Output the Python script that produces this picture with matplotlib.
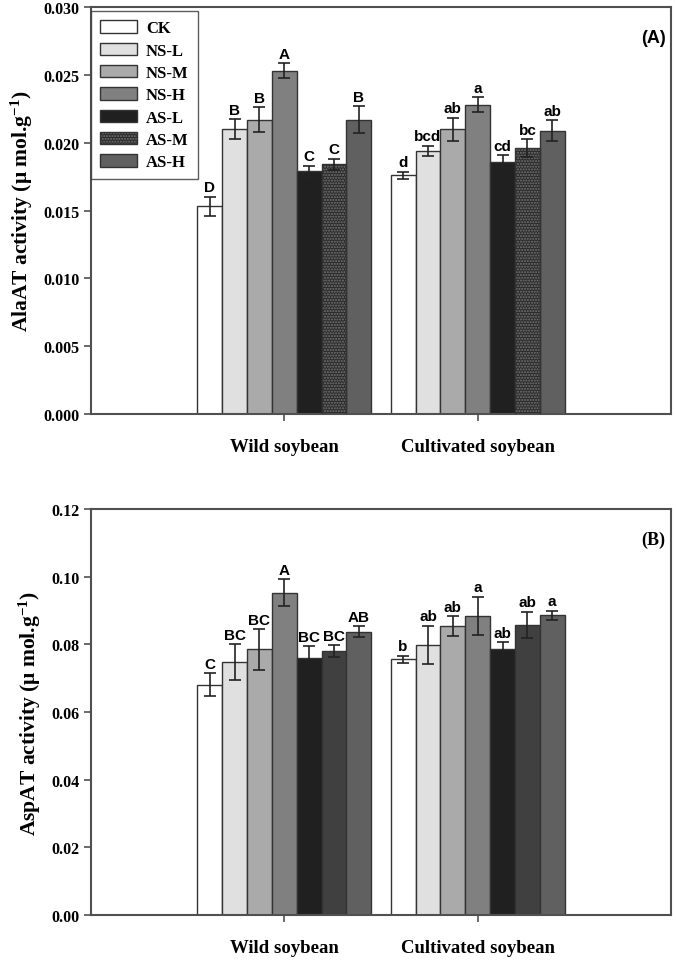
import matplotlib.pyplot as plt
import numpy as np
from matplotlib.patches import Patch
from matplotlib.legend_handler import HandlerTuple

# ---------------------------------------------------------------------------
# Data
# ---------------------------------------------------------------------------
groups = ["Wild soybean", "Cultivated soybean"]
treatments = ["CK", "NS-L", "NS-M", "NS-H", "AS-L", "AS-M", "AS-H"]

alaat_mean = [
    [0.0153, 0.0210, 0.0217, 0.0253, 0.0179, 0.0184, 0.0217],
    [0.0176, 0.0194, 0.0210, 0.0228, 0.0186, 0.0196, 0.0209],
]
alaat_err = [
    [0.00073, 0.00073, 0.00090, 0.00055, 0.00042, 0.00042, 0.00098],
    [0.00027, 0.00037, 0.00085, 0.00054, 0.00048, 0.00067, 0.00076],
]
alaat_letters = [
    ["D", "B", "B", "A", "C", "C", "B"],
    ["d", "bcd", "ab", "a", "cd", "bc", "ab"],
]

aspat_mean = [
    [0.0681, 0.0747, 0.0785, 0.0953, 0.0759, 0.0781, 0.0837],
    [0.0756, 0.0799, 0.0855, 0.0885, 0.0786, 0.0857, 0.0886],
]
aspat_err = [
    [0.0033, 0.0053, 0.0060, 0.0039, 0.0035, 0.0017, 0.0016],
    [0.0011, 0.0056, 0.0029, 0.0056, 0.0021, 0.0039, 0.0014],
]
aspat_letters = [
    ["C", "BC", "BC", "A", "BC", "BC", "AB"],
    ["b", "ab", "ab", "a", "ab", "ab", "a"],
]

colors_a = ["#ffffff", "#e0e0e0", "#aaaaaa", "#808080", "#202020", "#2a2a2a", "#606060"]
colors_b = ["#ffffff", "#e0e0e0", "#aaaaaa", "#808080", "#202020", "#404040", "#606060"]

SERIF = "Liberation Serif"
SANS = "Liberation Sans"
SPINE = "#505050"

plt.rcParams["mathtext.fontset"] = "custom"
plt.rcParams["mathtext.rm"] = "Liberation Serif:bold"
plt.rcParams["mathtext.it"] = "Liberation Serif:bold"
plt.rcParams["mathtext.bf"] = "Liberation Serif:bold"
plt.rcParams["mathtext.default"] = "rm"


def draw_panel(ax, means, errs, letters, colors, ymax, yticks, fmt, ylabel, tag,
               tag_font, hatch_asm):
    n = len(treatments)
    width = 0.9 / n
    centers = np.arange(1, len(groups) + 1)
    for gi, c in enumerate(centers):
        xs = c - 0.45 + width * (np.arange(n) + 0.5)
        for ti in range(n):
            m = means[gi][ti]
            e = errs[gi][ti]
            if hatch_asm and ti == 5:
                ax.bar(xs[ti], m, width, color=colors[ti], edgecolor="#777777",
                       hatch="......", linewidth=0, zorder=2)
                ax.bar(xs[ti], m, width, facecolor="none", edgecolor="#333333",
                       linewidth=1.0, zorder=3)
            else:
                ax.bar(xs[ti], m, width, color=colors[ti], edgecolor="#333333",
                       linewidth=1.0, zorder=2)
            ax.errorbar(xs[ti], m, yerr=e, fmt="none", ecolor="#222222",
                        elinewidth=1.2, capsize=4.5, capthick=1.2, zorder=4)
            ax.text(xs[ti], m + e + ymax * 0.006, letters[gi][ti],
                    ha="center", va="bottom", fontsize=11, fontweight="bold",
                    family=SANS, zorder=5)

    ax.set_xlim(0, len(groups) + 1)
    ax.set_ylim(0, ymax)
    ax.set_xticks(centers)
    ax.set_xticklabels(groups, fontsize=13.5, fontweight="bold", family=SERIF)
    ax.set_yticks(yticks)
    ax.set_yticklabels([fmt.format(v) for v in yticks], fontsize=11.5,
                       fontweight="bold", family=SERIF)
    ax.tick_params(axis="both", direction="out", length=5, width=1.2, color=SPINE)
    ax.tick_params(axis="x", pad=12)
    for s in ax.spines.values():
        s.set_color(SPINE)
        s.set_linewidth(1.5)
    ax.set_ylabel(ylabel, fontsize=15.5, fontweight="bold", family=SERIF, labelpad=6)
    ax.text(0.97, 0.925, tag, transform=ax.transAxes, ha="center", va="center",
            fontsize=13, fontweight="bold", family=tag_font)


fig = plt.figure(figsize=(6.76, 9.62), dpi=100)
ax_a = fig.add_axes([0.1346, 0.5686, 0.858, 0.423])
ax_b = fig.add_axes([0.1346, 0.0478, 0.858, 0.422])

draw_panel(ax_a, alaat_mean, alaat_err, alaat_letters, colors_a, 0.030,
           np.arange(0, 0.0301, 0.005), "{:.3f}",
           "AlaAT activity (\u03bc mol.g$^{-1}$)", "(A)", SANS, True)
draw_panel(ax_b, aspat_mean, aspat_err, aspat_letters, colors_b, 0.12,
           np.arange(0, 0.1201, 0.02), "{:.2f}",
           "AspAT activity (\u03bc mol.g$^{-1}$)", "(B)", SERIF, False)

# legend for panel A
handles = []
for i, t in enumerate(treatments):
    if i == 5:
        handles.append((Patch(facecolor=colors_a[i], edgecolor="#777777", hatch="......",
                              linewidth=0),
                        Patch(facecolor="none", edgecolor="#333333", linewidth=1.0)))
    else:
        handles.append(Patch(facecolor=colors_a[i], edgecolor="#333333", linewidth=1.0))
leg = ax_a.legend(handles, treatments, handler_map={tuple: HandlerTuple(ndivide=1, pad=0)},
                  loc="upper left", bbox_to_anchor=(0.0, 0.99), borderaxespad=0.0,
                  frameon=True, fancybox=False,
                  edgecolor="#333333", handlelength=2.2, handleheight=0.75,
                  labelspacing=0.38, borderpad=0.55, handletextpad=0.55,
                  prop={"family": SERIF, "weight": "bold", "size": 12})
leg.get_frame().set_linewidth(1.0)

plt.savefig("out.png", dpi=100)
